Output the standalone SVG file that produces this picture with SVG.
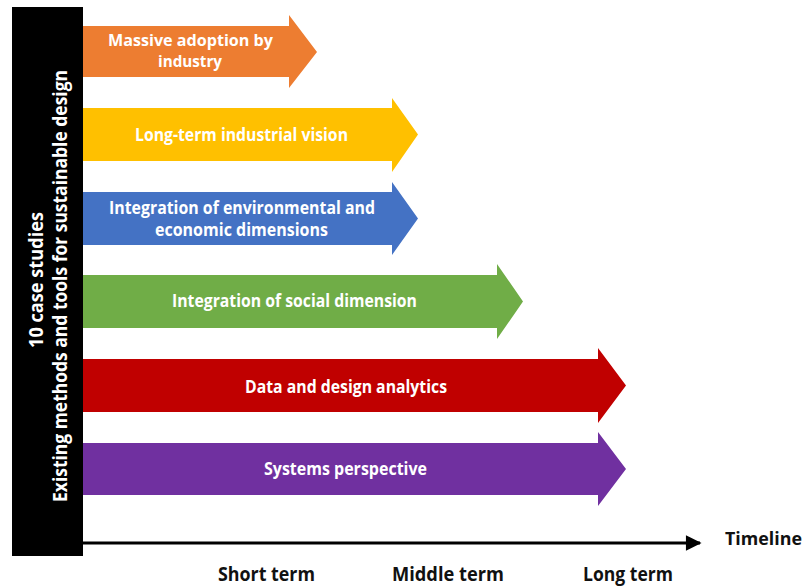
<svg xmlns="http://www.w3.org/2000/svg" width="809" height="587" viewBox="0 0 809 587">
<style>
text{font-family:"Open Sans","Liberation Sans",Arial,sans-serif;font-weight:700}
.w{fill:#ffffff;font-size:17px;text-anchor:middle}
.s{font-size:16px}
.k{fill:#111111;font-size:19px;text-anchor:middle}
.v{fill:#ffffff;font-size:19px;text-anchor:middle}
</style>
<defs>
<marker id="ah" viewBox="0 0 10 10" refX="9" refY="5" markerWidth="6" markerHeight="5.2" markerUnits="strokeWidth" orient="auto">
<path d="M0,0 L10,5 L0,10 z" fill="#000"/>
</marker>
</defs>
<rect width="809" height="587" fill="#ffffff"/>
<g id="case-studies">
<rect x="12" y="7" width="71" height="549" fill="#000000"/>
<text class="v" transform="translate(43,280) rotate(-90)" textLength="136" lengthAdjust="spacingAndGlyphs">10 case studies</text>
<text class="v" transform="translate(67,286) rotate(-90)" textLength="432" lengthAdjust="spacingAndGlyphs">Existing methods and tools for sustainable design</text>
</g>
<g id="massive-adoption">
<polygon points="83,26 289,26 289,15 317,52 289,88 289,77 83,77" fill="#ED7D31"/>
<text class="w s" x="190.5" y="46" textLength="165" lengthAdjust="spacingAndGlyphs">Massive adoption by</text>
<text class="w s" x="190" y="67" textLength="64" lengthAdjust="spacingAndGlyphs">industry</text>
</g>
<g id="industrial-vision">
<polygon points="83,108 392,108 392,98 418,134.5 392,172 392,161 83,161" fill="#FFC000"/>
<text class="w" x="241.5" y="141" textLength="213" lengthAdjust="spacingAndGlyphs">Long-term industrial vision</text>
</g>
<g id="env-econ">
<polygon points="83,192 392,192 392,182 418,218.5 392,255 392,245 83,245" fill="#4472C4"/>
<text class="w" x="242" y="214" textLength="266" lengthAdjust="spacingAndGlyphs">Integration of environmental and</text>
<text class="w" x="241.5" y="236" textLength="173" lengthAdjust="spacingAndGlyphs">economic dimensions</text>
</g>
<g id="social">
<polygon points="83,275 497,275 497,264 523,301.5 497,339 497,328 83,328" fill="#70AD47"/>
<text class="w" x="294.5" y="307" textLength="245" lengthAdjust="spacingAndGlyphs">Integration of social dimension</text>
</g>
<g id="data-analytics">
<polygon points="83,359 598,359 598,348 626,385.5 598,423 598,412 83,412" fill="#C00000"/>
<text class="w" x="346" y="393" textLength="202" lengthAdjust="spacingAndGlyphs">Data and design analytics</text>
</g>
<g id="systems">
<polygon points="83,443 598,443 598,432 626,469 598,506 598,495 83,495" fill="#7030A0"/>
<text class="w" x="345.5" y="475" textLength="163" lengthAdjust="spacingAndGlyphs">Systems perspective</text>
</g>
<g id="connectors">
<line x1="83" y1="543" x2="700" y2="543" stroke="#000" stroke-width="3" marker-end="url(#ah)"/>
</g>
<g id="labels">
<text class="k" x="725" y="545" style="text-anchor:start;font-size:18px" textLength="77" lengthAdjust="spacingAndGlyphs">Timeline</text>
<text class="k" x="266.5" y="581" textLength="97" lengthAdjust="spacingAndGlyphs">Short term</text>
<text class="k" x="448" y="581" textLength="112" lengthAdjust="spacingAndGlyphs">Middle term</text>
<text class="k" x="628" y="581" textLength="90" lengthAdjust="spacingAndGlyphs">Long term</text>
</g>
</svg>
